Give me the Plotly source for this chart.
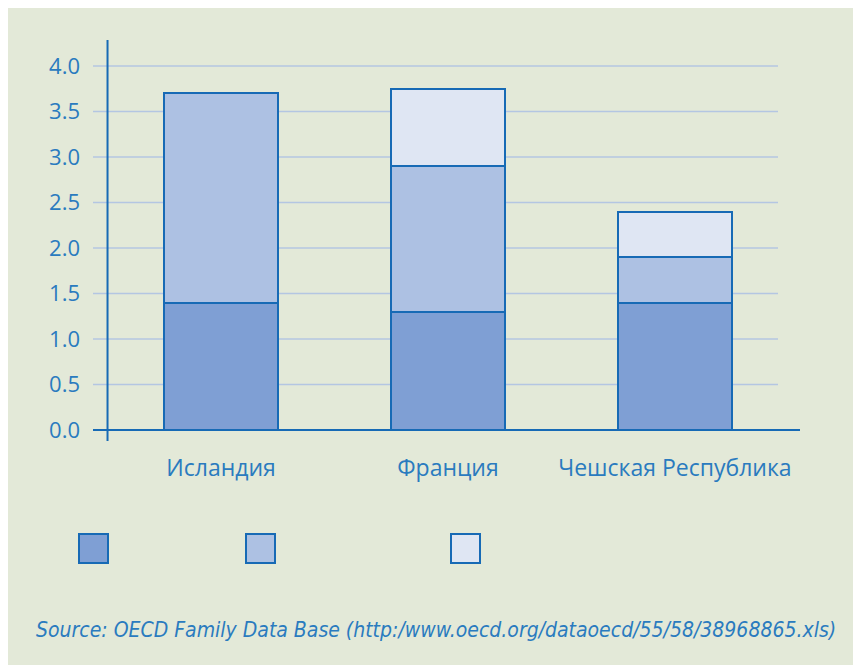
import plotly.graph_objects as go

categories = ["Исландия", "Франция", "Чешская Республика"]
series1 = [1.4, 1.3, 1.4]
series2 = [2.3, 1.6, 0.5]
series3 = [0.0, 0.85, 0.5]
y_ticks = [0.0, 0.5, 1.0, 1.5, 2.0, 2.5, 3.0, 3.5, 4.0]
source_text = "Source: OECD Family Data Base (http:/www.oecd.org/dataoecd/55/58/38968865.xls)"

fills = ["#7f9fd4", "#adc1e3", "#dfe6f3"]
edge = "#176ab5"
txt = "#2a7bbf"
bg = "#e3e9d8"
grid = "#b4c6e2"

OFF = 8  # page body offset
W, H = 861, 665
L, T = 93 - OFF, 40 - OFF
R = W - (800 - OFF)
B = H - (441 - OFF)
pw, ph = W - L - R, H - T - B

def px(x):
    return (x - OFF - L) / pw

def py(y):
    return (H - B - (y - OFF)) / ph

fig = go.Figure()
xs = list(range(len(categories)))
for vals, col in zip([series1, series2, series3], fills):
    fig.add_trace(go.Bar(x=xs, y=vals, marker=dict(color=col, line=dict(color=edge, width=2)),
                         width=0.5, showlegend=False, hoverinfo="skip"))

shapes = []
# gridlines
for t in y_ticks[1:]:
    shapes.append(dict(type="line", xref="paper", yref="y", x0=0, x1=px(778), y0=t, y1=t,
                       line=dict(color=grid, width=1.5), layer="below"))
# zero line
shapes.append(dict(type="line", xref="paper", yref="y", x0=0, x1=1, y0=0, y1=0,
                   line=dict(color=edge, width=2), layer="above"))
# y axis line
shapes.append(dict(type="line", xref="x", yref="paper", x0=-0.5, x1=-0.5, y0=0, y1=1,
                   line=dict(color=edge, width=2), layer="above"))
# legend squares
for x0, col in zip([79, 246, 451], fills):
    shapes.append(dict(type="rect", xref="paper", yref="paper", x0=px(x0), x1=px(x0 + 29),
                       y0=py(563), y1=py(534), fillcolor=col, line=dict(color=edge, width=2)))

fig.update_layout(
    width=W, height=H, barmode="stack", bargap=0,
    margin=dict(l=L, r=R, t=T, b=B, pad=0),
    paper_bgcolor=bg, plot_bgcolor="rgba(0,0,0,0)",
    font=dict(family="Open Sans, sans-serif", color=txt, size=20),
    shapes=shapes,
    xaxis=dict(range=[-0.564, 2.551], tickvals=xs, ticktext=categories, showgrid=False,
               zeroline=False, showline=False, ticks="", ticklabelstandoff=11,
               tickfont=dict(size=23, color=txt), fixedrange=True),
    yaxis=dict(range=[-0.12, 4.286], tickvals=y_ticks, ticktext=[f"{v:.1f}" for v in y_ticks],
               showgrid=False, zeroline=False, showline=False, ticks="", ticklabelstandoff=12,
               tickfont=dict(size=22, color=txt), fixedrange=True),
    annotations=[dict(text=source_text, xref="paper", yref="paper", x=px(436), y=py(630),
                      xanchor="center", yanchor="middle", showarrow=False,
                      font=dict(family="DejaVu Sans Condensed, sans-serif", size=21, color=txt,
                                style="italic", weight=300))],
)

fig.write_html("out.html")
